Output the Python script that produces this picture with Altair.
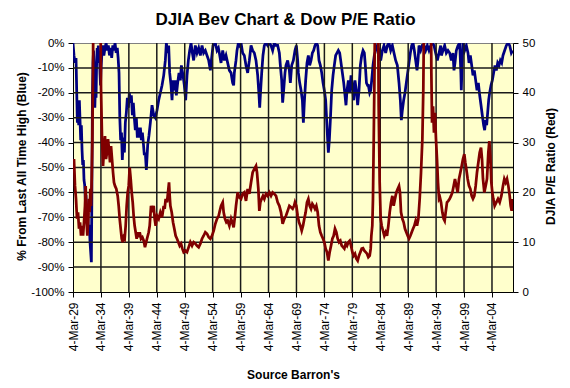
import altair as alt
import pandas as pd

# ---- data (fractional year, value) ----
blue_years = [
    1929.17, 1929.35, 1929.53, 1929.71, 1929.83, 1929.95, 1930.07, 1930.19, 1930.31, 1930.43,
    1930.55, 1930.67, 1930.79, 1930.91, 1931.03, 1931.14, 1931.26, 1931.38, 1931.50, 1931.62,
    1931.74, 1931.86, 1931.98, 1932.10, 1932.22, 1932.34, 1932.46, 1932.55, 1932.65, 1932.75,
    1932.85, 1932.95, 1933.08, 1933.20, 1933.30, 1933.40, 1933.50, 1933.60, 1933.70, 1933.80,
    1933.90, 1934.00, 1934.10, 1934.20, 1934.35, 1934.50, 1934.70, 1934.90, 1935.10, 1935.30,
    1935.50, 1935.70, 1935.90, 1936.10, 1936.30, 1936.50, 1936.70, 1936.90, 1937.10, 1937.25,
    1937.41, 1937.55, 1937.70, 1937.85, 1938.00, 1938.19, 1938.37, 1938.54, 1938.72, 1938.90,
    1939.08, 1939.26, 1939.44, 1939.62, 1939.80, 1939.97, 1940.15, 1940.33, 1940.51, 1940.69,
    1940.87, 1941.05, 1941.23, 1941.41, 1941.59, 1941.76, 1941.94, 1942.12, 1942.30, 1942.54,
    1942.78, 1943.02, 1943.32, 1943.62, 1943.91, 1944.21, 1944.51, 1944.81, 1945.11, 1945.41,
    1945.70, 1945.88, 1946.12, 1946.30, 1946.48, 1946.72, 1946.90, 1947.08, 1947.31, 1947.49,
    1947.67, 1947.91, 1948.15, 1948.39, 1948.57, 1948.87, 1949.10, 1949.34, 1949.58, 1949.82,
    1950.06, 1950.30, 1950.54, 1950.77, 1951.07, 1951.37, 1951.67, 1951.97, 1952.27, 1952.56,
    1952.86, 1953.16, 1953.46, 1953.76, 1953.94, 1954.24, 1954.65, 1954.95, 1955.20, 1955.37,
    1955.67, 1955.97, 1956.26, 1956.56, 1956.86, 1957.16, 1957.46, 1957.75, 1957.93, 1958.05,
    1958.35, 1958.53, 1958.77, 1959.01, 1959.25, 1959.54, 1959.84, 1960.14, 1960.44, 1960.74,
    1961.04, 1961.33, 1961.63, 1961.93, 1962.23, 1962.47, 1962.59, 1962.71, 1962.95, 1963.18,
    1963.42, 1963.72, 1964.02, 1964.32, 1964.62, 1964.91, 1965.21, 1965.51, 1965.81, 1966.11,
    1966.29, 1966.53, 1966.70, 1966.88, 1967.12, 1967.30, 1967.60, 1967.90, 1968.08, 1968.32,
    1968.62, 1968.91, 1969.15, 1969.39, 1969.51, 1969.75, 1969.99, 1970.23, 1970.41, 1970.58,
    1970.82, 1971.06, 1971.30, 1971.54, 1971.78, 1972.02, 1972.25, 1972.49, 1972.73, 1972.97,
    1973.21, 1973.45, 1973.69, 1973.93, 1974.16, 1974.40, 1974.58, 1974.76, 1974.88, 1975.06,
    1975.24, 1975.36, 1975.48, 1975.72, 1975.95, 1976.19, 1976.43, 1976.67, 1976.91, 1977.15,
    1977.39, 1977.63, 1977.86, 1978.04, 1978.22, 1978.46, 1978.70, 1978.94, 1979.18, 1979.41,
    1979.65, 1979.89, 1980.13, 1980.37, 1980.61, 1980.85, 1981.09, 1981.32, 1981.50, 1981.70,
    1981.90, 1982.04, 1982.28, 1982.46, 1982.64, 1982.87, 1983.11, 1983.35, 1983.65, 1983.95,
    1984.25, 1984.55, 1984.84, 1985.14, 1985.44, 1985.74, 1986.04, 1986.34, 1986.63, 1986.93,
    1987.23, 1987.53, 1987.77, 1987.95, 1988.13, 1988.36, 1988.60, 1988.84, 1989.08, 1989.32,
    1989.56, 1989.80, 1990.04, 1990.27, 1990.51, 1990.75, 1990.93, 1991.11, 1991.41, 1991.70,
    1992.00, 1992.30, 1992.60, 1992.90, 1993.20, 1993.50, 1993.79, 1994.09, 1994.39, 1994.69,
    1994.99, 1995.11, 1995.40, 1995.70, 1996.00, 1996.30, 1996.60, 1996.90, 1997.19, 1997.37,
    1997.55, 1997.79, 1998.09, 1998.39, 1998.60, 1998.68, 1998.80, 1998.98, 1999.28, 1999.58,
    1999.88, 2000.06, 2000.30, 2000.54, 2000.77, 2001.01, 2001.25, 2001.49, 2001.73, 2001.97,
    2002.21, 2002.44, 2002.68, 2002.86, 2003.04, 2003.22, 2003.40, 2003.58, 2003.76, 2004.00,
    2004.23, 2004.47, 2004.71, 2004.95, 2005.19, 2005.43, 2005.67, 2005.91, 2006.14, 2006.44,
    2006.74, 2007.04, 2007.34, 2007.64, 2007.88,
]
blue_pct = [
    0, -5, -8, -6, -19, -32, -25, -33, -23, -31,
    -39, -33, -43, -49, -47, -55, -57, -63, -61, -68,
    -66, -71, -76, -73, -80, -84, -88, -62, -22, -8,
    -3, -10, -26, -15, -22, -8, -2, -6, -1, -8,
    -3, -12, -17, -10, -4, -1, -5, -2, 0, -3,
    -1, -5, -2, -6, -1, -3, 0, -4, -2, -6,
    -12, -30, -39, -36, -47, -38, -44, -32, -28, -22,
    -26, -20, -24, -21, -29, -24, -30, -35, -30, -38,
    -34, -38, -34, -39, -36, -40, -45, -44, -51, -41,
    -37, -32, -25, -29, -30, -27, -23, -20, -17, -13,
    -7, 0, -4, -1, -12, -17, -23, -15, -19, -15,
    -21, -16, -12, -15, -9, -13, -17, -23, -13, -7,
    -3, 0, -4, -7, -1, -4, -2, -5, -1, -4,
    -3, -5, -7, -11, -7, -1, 0, -3, -2, -4,
    -8, -3, -7, -5, -8, -11, -12, -16, -17, -12,
    -7, -3, 0, -1, 0, -4, -5, -9, -12, -7,
    -1, -3, -4, -7, -13, -21, -26, -21, -12, -5,
    -1, 0, -1, 0, -1, -3, 0, -1, -1, -4,
    -9, -15, -24, -19, -12, -9, -7, -11, -16, -9,
    -7, -3, -1, -7, -12, -16, -19, -23, -32, -24,
    -15, -8, -5, -9, -7, -4, -3, -1, 0, -1,
    -7, -9, -12, -16, -19, -23, -31, -39, -44, -39,
    -31, -25, -19, -13, -9, -5, -4, -3, -4, -8,
    -12, -16, -21, -25, -19, -15, -20, -13, -17, -23,
    -15, -19, -25, -19, -9, -5, -3, -4, -9, -16,
    -17, -17, -20, -19, -15, -9, -5, -3, -1, -3,
    -7, -3, -1, -4, -1, 0, -3, -1, -4, -7,
    -9, -16, -23, -31, -27, -23, -20, -16, -12, -8,
    -4, -1, 0, -3, -7, -11, -7, -1, -3, -1,
    -1, -3, -1, -3, -1, 0, -1, -4, -7, -4,
    -1, -5, -3, -1, -4, -3, -4, -7, -4, -11,
    -8, -3, -1, 0, -12, -19, -10, 0, -3, -1,
    -4, -8, -5, -9, -13, -11, -15, -19, -16, -21,
    -25, -29, -33, -35, -31, -33, -28, -23, -20, -17,
    -15, -12, -9, -11, -8, -9, -7, -8, -5, -3,
    -1, 0, -1, -4, -3,
]

red_years = [
    1929.17, 1929.35, 1929.53, 1929.71, 1929.89, 1930.07, 1930.25, 1930.43, 1930.61, 1930.79,
    1930.97, 1931.14, 1931.32, 1931.44, 1931.56, 1931.74, 1931.92, 1932.04, 1932.16, 1932.28,
    1932.40, 1932.52, 1932.64, 1932.76, 1932.88, 1933.30, 1933.80, 1934.07, 1934.19, 1934.37,
    1934.55, 1934.72, 1934.90, 1935.08, 1935.26, 1935.44, 1935.62, 1935.80, 1935.98, 1936.16,
    1936.34, 1936.51, 1936.69, 1936.93, 1937.17, 1937.35, 1937.53, 1937.71, 1937.89, 1938.07,
    1938.25, 1938.42, 1938.60, 1938.78, 1938.96, 1939.14, 1939.32, 1939.50, 1939.68, 1939.86,
    1940.03, 1940.21, 1940.39, 1940.57, 1940.75, 1940.93, 1941.11, 1941.35, 1941.59, 1941.83,
    1942.06, 1942.42, 1942.72, 1942.90, 1943.14, 1943.38, 1943.62, 1943.79, 1943.97, 1944.21,
    1944.51, 1944.81, 1945.11, 1945.41, 1945.58, 1945.76, 1946.00, 1946.18, 1946.36, 1946.48,
    1946.60, 1946.84, 1947.08, 1947.31, 1947.55, 1947.79, 1948.03, 1948.27, 1948.51, 1948.75,
    1948.98, 1949.28, 1949.58, 1949.88, 1950.18, 1950.48, 1950.77, 1951.07, 1951.37, 1951.67,
    1951.97, 1952.27, 1952.56, 1952.86, 1953.16, 1953.46, 1953.76, 1954.06, 1954.36, 1954.65,
    1954.95, 1955.25, 1955.45, 1955.67, 1955.97, 1956.14, 1956.38, 1956.62, 1956.86, 1957.16,
    1957.46, 1957.75, 1957.93, 1958.17, 1958.35, 1958.65, 1958.95, 1959.25, 1959.54, 1959.84,
    1960.14, 1960.44, 1960.74, 1961.04, 1961.33, 1961.63, 1961.93, 1962.11, 1962.35, 1962.53,
    1962.71, 1962.95, 1963.18, 1963.42, 1963.72, 1964.02, 1964.32, 1964.62, 1964.91, 1965.21,
    1965.51, 1965.81, 1966.11, 1966.41, 1966.70, 1967.00, 1967.30, 1967.60, 1967.90, 1968.20,
    1968.49, 1968.75, 1968.91, 1969.15, 1969.39, 1969.63, 1969.87, 1970.11, 1970.35, 1970.58,
    1970.82, 1971.06, 1971.30, 1971.54, 1971.78, 1972.02, 1972.25, 1972.49, 1972.73, 1972.97,
    1973.21, 1973.45, 1973.69, 1973.93, 1974.16, 1974.40, 1974.64, 1974.88, 1975.12, 1975.36,
    1975.60, 1975.83, 1976.07, 1976.31, 1976.55, 1976.79, 1977.03, 1977.27, 1977.51, 1977.74,
    1977.98, 1978.22, 1978.46, 1978.70, 1978.94, 1979.18, 1979.41, 1979.65, 1979.89, 1980.13,
    1980.37, 1980.61, 1980.85, 1981.09, 1981.32, 1981.56, 1981.80, 1982.04, 1982.28, 1982.46,
    1982.58, 1982.75, 1982.87, 1982.99, 1983.11, 1983.23, 1983.53, 1983.77, 1983.89, 1984.07,
    1984.25, 1984.43, 1984.66, 1984.90, 1985.14, 1985.38, 1985.62, 1985.86, 1986.10, 1986.34,
    1986.57, 1986.81, 1987.05, 1987.29, 1987.53, 1987.71, 1987.89, 1988.13, 1988.36, 1988.60,
    1988.84, 1989.08, 1989.32, 1989.56, 1989.80, 1990.04, 1990.27, 1990.51, 1990.75, 1990.99,
    1991.23, 1991.47, 1991.71, 1991.88, 1992.00, 1992.60, 1993.20, 1993.32, 1993.44, 1993.62,
    1993.79, 1993.97, 1994.15, 1994.33, 1994.51, 1994.69, 1994.85, 1995.05, 1995.29, 1995.52,
    1995.70, 1995.88, 1996.12, 1996.36, 1996.60, 1996.84, 1997.08, 1997.31, 1997.55, 1997.79,
    1998.03, 1998.27, 1998.51, 1998.75, 1998.98, 1999.22, 1999.40, 1999.58, 1999.82, 2000.06,
    2000.30, 2000.54, 2000.77, 2001.01, 2001.25, 2001.49, 2001.73, 2001.97, 2002.21, 2002.39,
    2002.56, 2002.80, 2003.04, 2003.28, 2003.52, 2003.70, 2003.88, 2004.06, 2004.23, 2004.41,
    2004.65, 2004.95, 2005.25, 2005.55, 2005.85, 2006.14, 2006.38, 2006.62, 2006.86, 2007.10,
    2007.34, 2007.52, 2007.70, 2007.88,
]
red_pe = [
    24, 26.7, 21.3, 18.7, 14.7, 16, 12.7, 14, 11.3, 13.3,
    11.3, 14, 17.3, 21.3, 15.3, 11.3, 14.7, 18.7, 16, 20.7,
    17.3, 22.7, 30.7, 44, 80, 120, 90, 60, 40.7, 30.7,
    25.3, 28.7, 31.3, 26.7, 28, 30.7, 28.7, 26, 29.3, 26.7,
    24, 22, 21.3, 20.7, 19.3, 17.3, 14.7, 12.7, 10.7, 10,
    11, 10.7, 13.3, 17.3, 20, 21.3, 25, 22.7, 20, 18,
    15.3, 13.3, 12, 10.7, 12, 11, 12, 10.7, 11, 10.3,
    9, 10.7, 12, 13.3, 17.3, 16, 17.3, 14.7, 13.3, 15.3,
    14.7, 16, 15, 17.3, 16.7, 18.7, 18, 20, 22, 19.3,
    17.3, 16, 14, 12.7, 11.3, 10.7, 10, 9.3, 9.7, 8.7,
    8, 8.3, 8, 9, 10, 9.3, 10, 9.7, 9.3, 9,
    9.7, 10.7, 11.3, 12, 11.7, 11, 10.7, 11.3, 12.3, 13.7,
    14.7, 15.3, 16.3, 17.3, 18, 16, 14.7, 14, 14.3, 13.3,
    14.7, 13.7, 13, 15.3, 17.3, 20, 19, 18.7, 19.7, 20,
    18.3, 20.7, 19.7, 22, 24, 24.7, 25.3, 24, 20.7, 16.3,
    18, 18.7, 19.3, 18.7, 19.7, 19.3, 20, 19.3, 20, 19.7,
    19.3, 18, 17.3, 16, 13.7, 14.7, 15.3, 16.3, 17.3, 17,
    16.7, 17.3, 18, 17.3, 15.3, 14, 13.3, 12.3, 13.3, 14.7,
    16, 18, 18.7, 17.3, 16.7, 17.7, 17.3, 16.7, 17.3, 16,
    13.3, 12, 11.3, 10.7, 10, 8.7, 8, 6.3, 8, 9.3,
    10.7, 11.3, 12.7, 12, 10.7, 10, 10.3, 9.3, 9, 8.7,
    9.7, 9.3, 10, 10.3, 9.3, 8, 7.3, 7.7, 6.7, 6.3,
    7.3, 8, 8.7, 8.8, 8.3, 8, 7.7, 7, 7.3, 8.7,
    11.3, 13.3, 18.7, 29.3, 40.7, 55, 80, 60, 37.3, 22,
    14.7, 13.3, 12.3, 11.3, 12, 11.3, 13.3, 16, 18, 19.3,
    17.3, 18.7, 20, 20.7, 21.3, 20, 16, 14.7, 14, 12.7,
    12, 11.3, 10.7, 11.3, 12, 12.7, 13.3, 14.3, 13.3, 14.7,
    18.7, 24, 30.7, 40.7, 55, 90, 70, 44, 34, 37.3,
    32, 36, 30.7, 26.7, 22, 18.7, 19, 18, 16, 14.7,
    14.3, 16, 18, 18.3, 18.7, 19.3, 20, 21.3, 22.7, 21.3,
    20, 22.7, 24, 25.3, 26.7, 27.7, 26, 24.7, 22.7, 21.3,
    20.7, 19.3, 18.7, 19.3, 21.3, 24, 26, 28, 29, 26.7,
    22.7, 20, 21.3, 22.7, 28, 30.3, 27.3, 22, 20, 18.7,
    17.3, 18, 18.7, 18, 19.3, 21.3, 22.7, 22, 22.7, 21.3,
    19.3, 17.3, 16.3, 18.7,
]

x_tick_years = list(range(1929, 2005, 5))
left_ticks = list(range(-100, 1, 10))
right_ticks = list(range(0, 51, 10))
x_start = "1929-03-04"
x_end = "2007-12-08"


def to_date(y):
    yr = int(y)
    ts = pd.Timestamp(year=yr, month=1, day=1) + pd.Timedelta(days=(y - yr) * 365.25)
    return ts.strftime("%Y-%m-%d")


blue_df = pd.DataFrame({"date": [to_date(y) for y in blue_years], "value": blue_pct})
red_df = pd.DataFrame({"date": [to_date(y) for y in red_years], "value": red_pe})

# gridline segments built from the tick arrays (two end points per line)
rows = []
for y in x_tick_years[1:]:
    rows.append({"date": f"{y}-03-04", "value": -100, "g": f"v{y}"})
    rows.append({"date": f"{y}-03-04", "value": 0, "g": f"v{y}"})
for v in left_ticks:
    if -100 < v < 0:
        rows.append({"date": x_start, "value": v, "g": f"h{v}"})
        rows.append({"date": x_end, "value": v, "g": f"h{v}"})
grid_df = pd.DataFrame(rows)
title_df = pd.DataFrame({"t": ["DJIA Bev Chart & Dow P/E Ratio"]})

FONT = "Liberation Sans, Arial, sans-serif"
W, H = 440, 249

x_scale = alt.Scale(
    type="utc",
    domain=[alt.DateTime(year=1929, month=3, date=4, utc=True),
            alt.DateTime(year=2007, month=12, date=8, utc=True)],
    nice=False,
)

x_axis = alt.Axis(
    values=[alt.DateTime(year=y, month=3, date=4, utc=True) for y in x_tick_years],
    labelExpr="utcFormat(datum.value, '%-d-%b-%y')",
    labelAngle=-90,
    labelFontSize=12,
    labelPadding=5,
    labelFlush=False,
    labelOverlap=False,
    tickSize=5,
    grid=False,
    title="Source Barron's",
    titleX=220,
    titleY=86,
    titleAlign="center",
    titleBaseline="alphabetic",
    titleFontSize=12,
    titleFontWeight="bold",
)

x_enc = alt.X("date:T", scale=x_scale, axis=x_axis)
left_scale = alt.Scale(domain=[-100, 0], nice=False, zero=False)

left_axis = alt.Axis(
    values=left_ticks,
    labelExpr="datum.value + '%'",
    labelFontSize=11.5,
    labelPadding=4,
    tickSize=5,
    grid=False,
    title="% From Last All Time High (Blue)",
    titleAngle=270,
    titleX=-48,
    titleY=123,
    titleAlign="center",
    titleBaseline="alphabetic",
    titleFontSize=12,
    titleFontWeight="bold",
)

blue = alt.Chart(blue_df).mark_line(color="#000080", strokeWidth=2.75, clip=True).encode(
    x=x_enc,
    y=alt.Y("value:Q", scale=left_scale, axis=left_axis),
)

# gridlines share the left scale with the blue series inside one sub-layer
grid = alt.Chart(grid_df).mark_line(color="#1a1a1a", strokeWidth=1.5, opacity=1, clip=True).encode(
    x=x_enc,
    y=alt.Y("value:Q", scale=left_scale, axis=left_axis),
    detail="g:N",
)

left_part = alt.layer(blue, grid)

red = alt.Chart(red_df).mark_line(color="#800000", strokeWidth=2.75, clip=True).encode(
    x=x_enc,
    y=alt.Y(
        "value:Q",
        scale=alt.Scale(domain=[0, 50], nice=False),
        axis=alt.Axis(
            orient="right",
            values=right_ticks,
            labelFontSize=11.5,
            labelPadding=4,
            tickSize=5,
            grid=False,
            title="DJIA P/E Ratio (Red)",
            titleAngle=270,
            titleX=41,
            titleY=123,
            titleAlign="center",
            titleBaseline="alphabetic",
            titleFontSize=12,
            titleFontWeight="bold",
        ),
    ),
)

title = alt.Chart(title_df).mark_text(
    font=FONT, fontSize=17, fontWeight="bold", align="center", baseline="alphabetic", color="black"
).encode(text="t:N", x=alt.value(212.5), y=alt.value(-18))

chart = (
    alt.layer(left_part, red, title)
    .resolve_scale(y="independent")
    .properties(
        width=W,
        height=H,
        padding={"left": 65, "top": 35, "right": 49, "bottom": 88},
        autosize=alt.AutoSizeParams(type="none"),
        background="white",
    )
    .configure_view(fill="#FFFFCC", stroke="#808080", strokeWidth=1)
    .configure_axis(
        labelFont=FONT,
        titleFont=FONT,
        labelColor="black",
        titleColor="black",
        domainColor="black",
        tickColor="black",
        domainWidth=1,
        tickWidth=1,
    )
)

chart.save("out.html", embed_options={"renderer": "svg", "actions": False})
